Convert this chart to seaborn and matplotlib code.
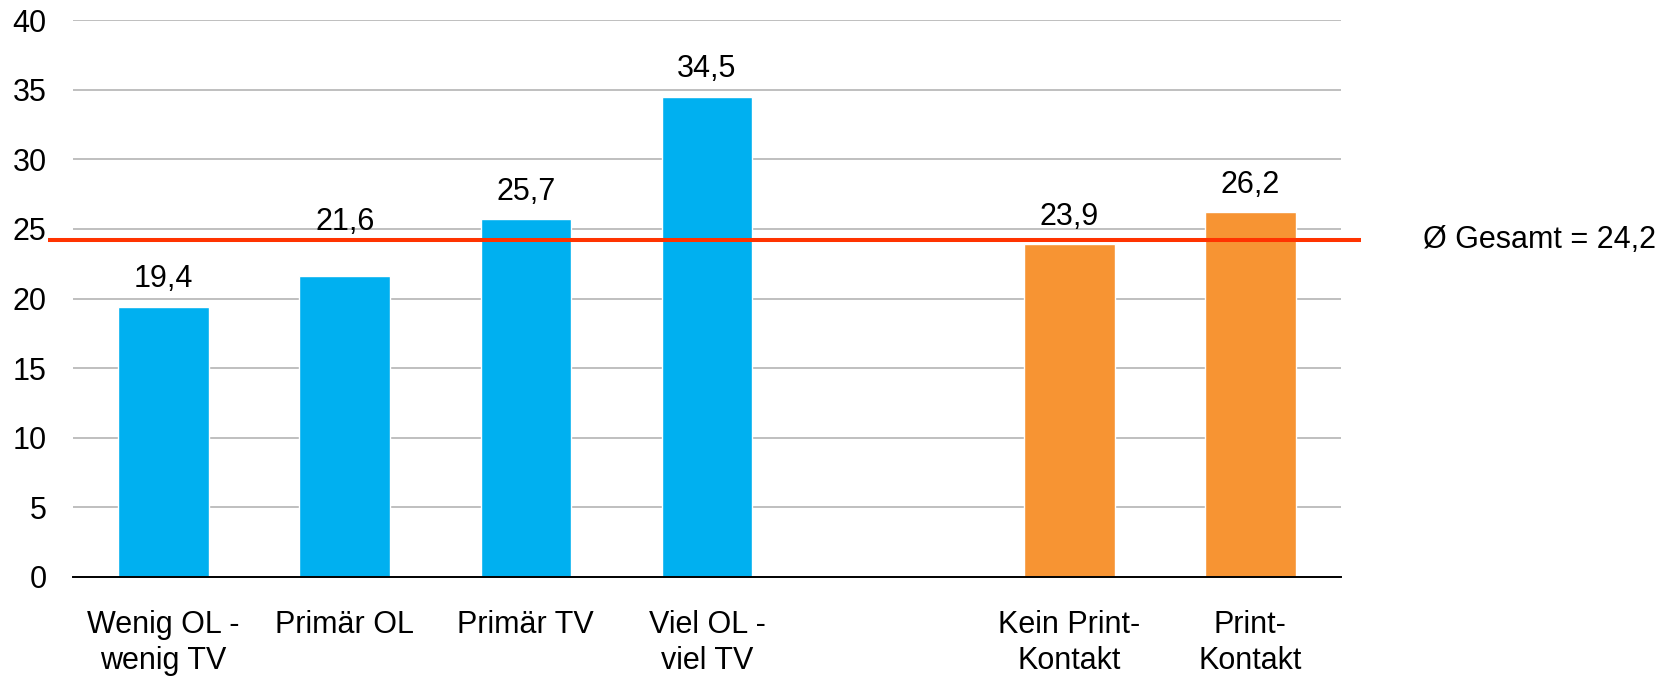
import matplotlib
matplotlib.use("Agg")
import matplotlib.pyplot as plt
import matplotlib.transforms as mtransforms
import seaborn as sns
import pandas as pd

# Media-usage groups (blue) and print contact (orange); a blank slot separates them
categories = ["Wenig OL -\nwenig TV", "Primär OL", "Primär TV", "Viel OL -\nviel TV",
              "Kein Print-\nKontakt", "Print-\nKontakt"]
values = [19.4, 21.6, 25.7, 34.5, 23.9, 26.2]
groups = ["Nutzung", "Nutzung", "Nutzung", "Nutzung", "Print", "Print"]
gap_label = " "
order = categories[:4] + [gap_label] + categories[4:]
overall_mean = 24.2
mean_label = "Ø Gesamt = 24,2"

palette = {"Nutzung": "#00B0F0", "Print": "#F79433"}

df = pd.DataFrame({"Kategorie": categories, "Wert": values, "Gruppe": groups})

sns.set_theme(style="white")
plt.rcParams["font.family"] = ["Liberation Sans", "DejaVu Sans"]

FS = 22
W, H = 1673, 680
fig = plt.figure(figsize=(W / 100, H / 100), dpi=100)
ax = fig.add_axes([73 / W, 1 - 577 / H, (1341 - 73) / W, (577 - 20) / H])

sns.barplot(data=df, x="Kategorie", y="Wert", hue="Gruppe", order=order,
            palette=palette, dodge=False, width=0.5, legend=False,
            saturation=1, ax=ax, zorder=3)

ax.set_ylim(0, 40)
ax.set_yticks(range(0, 41, 5))
ax.set_xlim(-0.5, 6.5)
ax.yaxis.grid(True, color="#BFBFBF", linewidth=1.4, zorder=0)
ax.set_axisbelow(True)
for side in ["top", "right", "left"]:
    ax.spines[side].set_visible(False)
ax.spines["bottom"].set_color("black")
ax.spines["bottom"].set_linewidth(1.4)
ax.spines["bottom"].set_zorder(4)
ax.set_xlabel("")
ax.set_ylabel("")
ax.tick_params(axis="y", length=0, labelsize=FS, pad=19, colors="black")
ax.tick_params(axis="x", length=0, labelsize=FS, pad=24, colors="black")
for lbl in ax.get_xticklabels():
    lbl.set_linespacing(1.24)

# Value labels above bars with decimal commas; a label that would be crossed
# by the average line is lifted above it
for cont in ax.containers:
    for bar, v in zip(cont, cont.datavalues):
        if v != v:
            continue
        pad = 9
        if overall_mean - 3 < v < overall_mean - 1:
            pad = 28
        ax.annotate(f"{v:.1f}".replace(".", ","),
                    xy=(bar.get_x() + bar.get_width() / 2, v),
                    xytext=(0, pad), textcoords="offset points",
                    ha="center", va="bottom", fontsize=FS, color="black")

# Overall average line, extending slightly beyond the plot area on both sides
trans = mtransforms.blended_transform_factory(ax.transAxes, ax.transData)
ax.plot([-0.0197, 1.0158], [overall_mean, overall_mean], transform=trans,
        color="#FF3300", linewidth=2.9, clip_on=False, zorder=5,
        solid_capstyle="butt")
ax.text(1.0647, overall_mean, mean_label, transform=trans, fontsize=FS,
        va="center", ha="left", color="black")

fig.savefig("out.png", dpi=100)
